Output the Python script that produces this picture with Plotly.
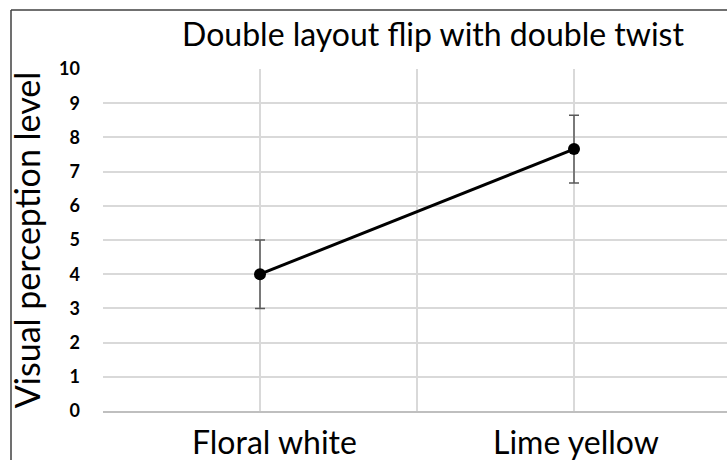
import plotly.graph_objects as go

categories = ["Floral white", "Lime yellow"]
values = [4.0, 7.66]
errors = [1.0, 0.99]
y_ticks = list(range(0, 11))
title_text = "Double layout flip with double twist"
y_title = "Visual perception level"

W, H = 727, 460
L, T, B = 103, 69, 49
plot_w = W - L
plot_h = H - T - B

xs = list(range(len(categories)))
label_xshift = [14, 2]  # label placement offsets (px)

fig = go.Figure()
fig.add_trace(go.Scatter(
    x=xs, y=values, mode="lines+markers",
    line=dict(color="black", width=3),
    marker=dict(color="black", size=12),
    error_y=dict(type="data", array=errors, visible=True,
                 color="#595959", thickness=1.5, width=5),
    showlegend=False,
))

font = "Lato, 'Open Sans', sans-serif"

fx0 = (11 - L) / plot_w
fy1 = 1 + (T - 10) / plot_h

annotations = [
    dict(x=xv, y=0, xref="x", yref="paper", text=cat, showarrow=False,
         xanchor="center", yanchor="top", yshift=-9, xshift=sh,
         font=dict(family=font, size=32, color="black"))
    for xv, cat, sh in zip(xs, categories, label_xshift)
]

fig.update_layout(
    width=W, height=H,
    margin=dict(l=L, r=0, t=T, b=B, pad=0, autoexpand=False),
    paper_bgcolor="white", plot_bgcolor="white",
    title=dict(text=title_text, x=433 / W, xref="container", xanchor="center",
               y=1 - 35 / H, yref="container", yanchor="middle", automargin=False,
               font=dict(family=font, size=32, color="black")),
    xaxis=dict(
        range=[-0.5, 1 + (W - 574) / 314],
        tickvals=[-0.5, 0, 0.5, 1],
        showticklabels=False,
        showgrid=True, gridcolor="#d9d9d9", gridwidth=1.5,
        zeroline=False, showline=True, linecolor="#bfbfbf", linewidth=1.5,
        mirror=False, ticks="", automargin=False,
    ),
    yaxis=dict(
        range=[0, 10], tickvals=y_ticks,
        showgrid=True, gridcolor="#d9d9d9", gridwidth=1.5,
        zeroline=False, showline=False, mirror=False,
        ticks="", tickfont=dict(family=font, size=18, color="black", weight="bold"),
        ticklabelstandoff=22, automargin=False,
        title=dict(text=y_title, font=dict(family=font, size=34, color="black"),
                   standoff=8),
    ),
    annotations=annotations,
    shapes=[
        dict(type="line", xref="paper", yref="paper",
             x0=fx0, x1=fx0, y0=-0.3, y1=fy1,
             line=dict(color="#404040", width=1.5), layer="above"),
        dict(type="line", xref="paper", yref="paper",
             x0=fx0, x1=1.0, y0=fy1, y1=fy1,
             line=dict(color="#404040", width=1.5), layer="above"),
    ],
)

fig.write_html("out.html", config={"displayModeBar": False})

with open("out.html", encoding="utf-8") as f:
    html = f.read()
html = html.replace("<head>", "<head><style>html,body{margin:0;padding:0;overflow:hidden;}</style>", 1)
with open("out.html", "w", encoding="utf-8") as f:
    f.write(html)
